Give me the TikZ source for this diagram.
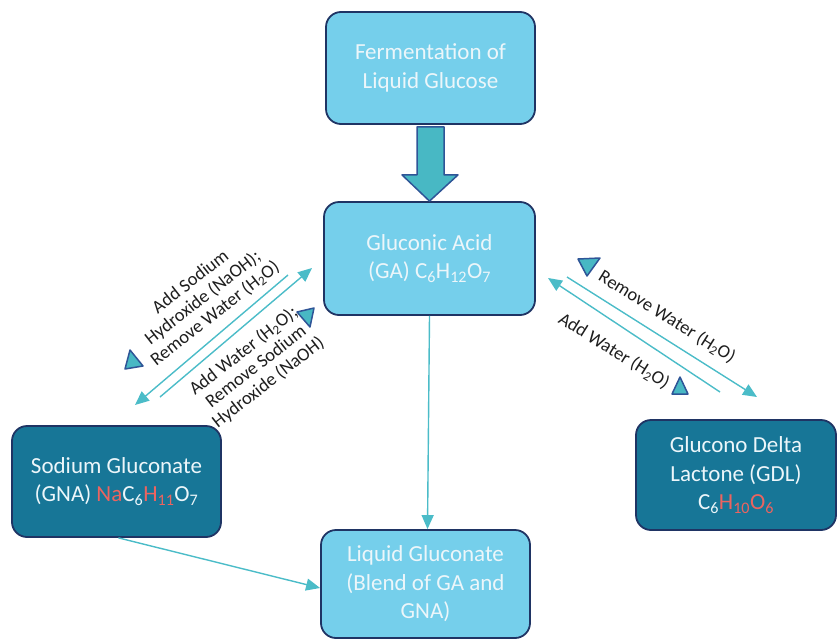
\documentclass[tikz,border=0pt]{standalone}
\usepackage{fontspec}
\setmainfont{Carlito}
\usetikzlibrary{arrows.meta,calc}
\definecolor{lightbox}{RGB}{117,207,235}
\definecolor{darkbox}{RGB}{23,118,151}
\definecolor{boxborder}{RGB}{31,52,100}
\definecolor{boxtext}{RGB}{236,246,250}
\definecolor{redtext}{RGB}{236,100,96}
\definecolor{lineteal}{RGB}{75,188,200}
\definecolor{triteal}{RGB}{72,184,196}
\definecolor{triborder}{RGB}{47,85,151}
\definecolor{labeltext}{RGB}{30,30,30}
\newcommand{\rd}[1]{{\color{redtext}#1}}
\newcommand{\sbs}[1]{\textsubscript{#1}}
\begin{document}
\begin{tikzpicture}[x=1pt,y=-1pt,
  box/.style={draw=boxborder, line width=1.8pt, rounded corners=15pt, align=center,
    text=boxtext, font=\fontsize{23}{28.5}\selectfont, inner sep=0pt},
  lbox/.style={box, fill=lightbox},
  dbox/.style={box, fill=darkbox},
  conn/.style={draw=lineteal, line width=1.4pt, -{Triangle[length=14pt,width=12pt]}},
  lab/.style={font=\fontsize{18.5}{20}\selectfont, align=center, text=labeltext, inner sep=0pt},
  deco/.style={fill=triteal, draw=triborder, line width=1.5pt, line join=round}]
\useasboundingbox (0,0) rectangle (838,640);

\node[lbox, minimum width=209pt, minimum height=112pt] (ferm) at (430.5,68) {Fermentation of\\Liquid Glucose};
\node[lbox, minimum width=211pt, minimum height=113pt] (ga) at (429.5,258.5) {Gluconic Acid\\(GA) C\sbs{6}H\sbs{12}O\sbs{7}};
\node[dbox, minimum width=209pt, minimum height=111pt] (sg) at (116.5,481.5) {Sodium Gluconate\\(GNA) \rd{Na}C\sbs{6}\rd{H\sbs{11}}O\sbs{7}};
\node[dbox, minimum width=200pt, minimum height=110pt] (gdl) at (736,475) {Glucono Delta\\Lactone (GDL)\\C\sbs{6}\rd{H\sbs{10}O\sbs{6}}};
\node[lbox, minimum width=209pt, minimum height=108pt] (lg) at (425.5,584) {Liquid Gluconate\\(Blend of GA and\\GNA)};

% block arrow
\draw[deco] ($(ferm.south)+(-13.5,2)$) -- ($(ferm.south)+(13.5,2)$) -- ($(ferm.south)+(13.5,50)$)
  -- ($(ferm.south)+(27.5,50)$) -- (ga.north) -- ($(ferm.south)+(-28.5,50)$)
  -- ($(ferm.south)+(-13.5,50)$) -- cycle;

% connectors
\draw[conn] (ga.south) -- ([xshift=2pt]lg.north);
\draw[conn] ([xshift=2pt]sg.south) -- ([yshift=-4pt]lg.west);

% double arrows left
\coordinate (a1) at (288,275); \coordinate (a2) at (135,405);
\coordinate (b1) at (160,397); \coordinate (b2) at (312,268);
\draw[conn] (a1) -- (a2);
\draw[conn] (b1) -- (b2);
% double arrows right
\coordinate (c1) at (567,277); \coordinate (c2) at (757,397);
\coordinate (d1) at (720,392); \coordinate (d2) at (548,278);
\draw[conn] (c1) -- (c2);
\draw[conn] (d1) -- (d2);

% small triangles
\draw[deco] (130,350) -- (125,369) -- (143,366) -- cycle;
\draw[deco] (297,312) -- (314,308) -- (310,327) -- cycle;
\draw[deco] (578,259) -- (600,258) -- (587,276) -- cycle;
\draw[deco] (680,377) -- (672,394) -- (688,394) -- cycle;

% labels
\node[lab, rotate=38] (l1) at (203,298) {Add Sodium\\Hydroxide (NaOH);\\Remove Water (H\sbs{2}O)};
\node[lab, rotate=38] (l2) at (256,367) {Add Water (H\sbs{2}O);\\Remove Sodium\\Hydroxide (NaOH)};
\node[lab, rotate=-32] (l3) at (667,317) {Remove Water (H\sbs{2}O)};
\node[lab, rotate=-32] (l4) at (614,351) {Add Water (H\sbs{2}O)};
\end{tikzpicture}
\end{document}
